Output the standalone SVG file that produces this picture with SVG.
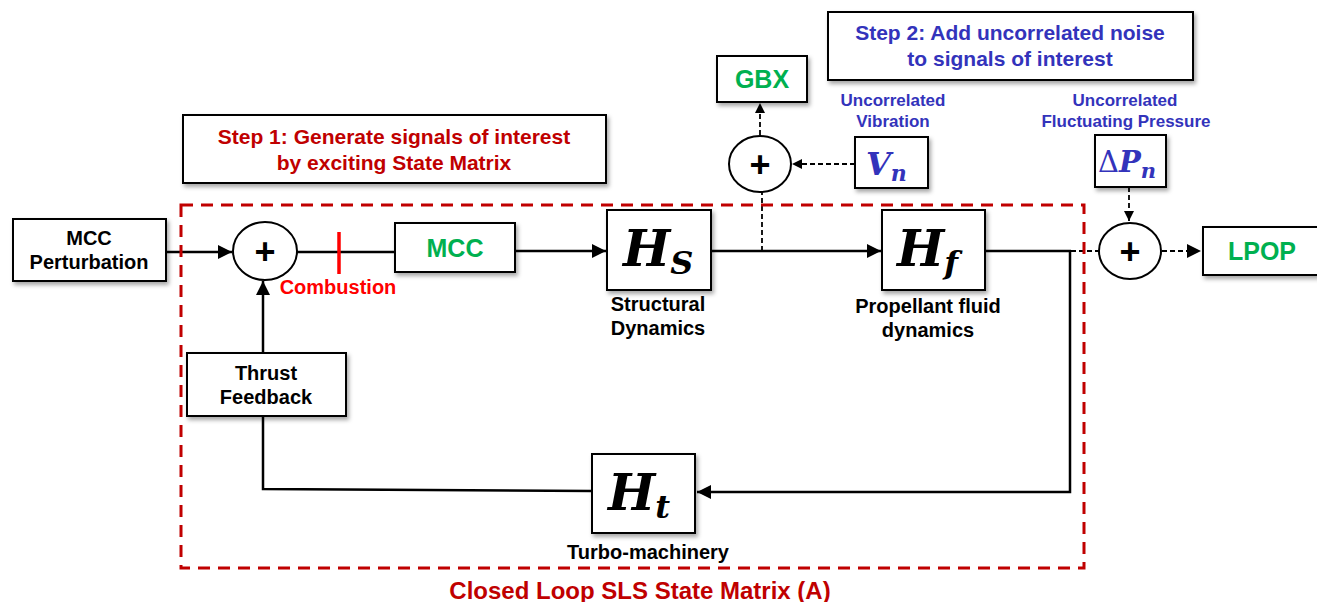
<svg xmlns="http://www.w3.org/2000/svg" width="1317" height="602" viewBox="0 0 1317 602">
<style>
.box{fill:#fff;stroke:#000;stroke-width:2;filter:url(#sh)}
.sum{fill:#fff;stroke:#000;stroke-width:2}
.t{font-family:"Liberation Sans",Arial,sans-serif;font-weight:bold;text-anchor:middle}
.blk{fill:#000;font-size:20px}
.grn{fill:#00B050;font-size:25px}
.red{fill:#C00000;font-size:21px}
.blu{fill:#3333BB}
.m{font-family:"DejaVu Serif","Liberation Serif",serif;font-weight:bold;font-style:italic}
.w{fill:none;stroke:#000;stroke-width:2.5}
.d{fill:none;stroke:#000;stroke-width:1.8;stroke-dasharray:5,3}
.plus{fill:#000;font-size:36px}
</style>
<defs>
<filter id="sh" x="-10%" y="-10%" width="130%" height="140%">
<feDropShadow dx="2" dy="3" stdDeviation="2" flood-color="#000" flood-opacity="0.35"/>
</filter>
<marker id="a" viewBox="0 0 10 10" refX="10" refY="5" markerWidth="10" markerHeight="10" markerUnits="userSpaceOnUse" orient="auto">
<path d="M0,0 L10,5 L0,10 z" fill="#000"/>
</marker>
<marker id="A" viewBox="0 0 10 10" refX="10" refY="5" markerWidth="14" markerHeight="14" markerUnits="userSpaceOnUse" orient="auto">
<path d="M0,0 L10,5 L0,10 z" fill="#000"/>
</marker>
</defs>
<rect width="1317" height="602" fill="#fff"/>

<g id="connectors">
<line class="w" x1="166" y1="252" x2="232" y2="252" marker-end="url(#A)"/>
<line class="w" x1="297" y1="252" x2="395" y2="252"/>
<line class="w" x1="515" y1="251" x2="606" y2="251" marker-end="url(#A)"/>
<line class="w" x1="711" y1="251" x2="881" y2="251" marker-end="url(#A)"/>
<line class="w" x1="985" y1="251" x2="1071" y2="251"/>
<line class="d" x1="1071" y1="251" x2="1099" y2="251"/>
<line class="d" x1="1162" y1="251" x2="1201" y2="251" marker-end="url(#A)"/>
<polyline class="w" points="1070,251 1070,492 697,492" marker-end="url(#A)"/>
<polyline class="w" points="592,491 263,489 263,416"/>
<line class="w" x1="263" y1="353" x2="263" y2="281" marker-end="url(#A)"/>
<line class="d" x1="762" y1="251" x2="762" y2="192"/>
<line class="d" x1="760" y1="135" x2="760" y2="103" marker-end="url(#a)"/>
<line class="d" x1="855" y1="164" x2="792" y2="164" marker-end="url(#a)"/>
<line class="d" x1="1129" y1="187" x2="1129" y2="221" marker-end="url(#a)"/>
<line x1="339" y1="232" x2="339" y2="274" stroke="#FF0000" stroke-width="3.5"/>
</g>

<g id="closed-loop">
<rect x="181" y="205" width="903" height="363" fill="none" stroke="#C00000" stroke-width="3" stroke-dasharray="12,8"/>
<text class="t" x="640" y="599" fill="#C00000" font-size="24">Closed Loop SLS State Matrix (A)</text>
</g>

<g id="step1">
<rect class="box" x="183" y="115" width="423" height="68"/>
<text class="t red" x="394" y="144">Step 1: Generate signals of interest</text>
<text class="t red" x="394" y="170">by exciting State Matrix</text>
</g>

<g id="step2">
<rect class="box" x="828" y="12" width="365" height="68"/>
<text class="t blu" font-size="21" x="1010" y="40">Step 2: Add uncorrelated noise</text>
<text class="t blu" font-size="21" x="1010" y="66">to signals of interest</text>
</g>

<g id="mcc-perturbation">
<rect class="box" x="13" y="219" width="153" height="62"/>
<text class="t blk" x="89" y="245">MCC</text>
<text class="t blk" x="89" y="269">Perturbation</text>
</g>

<g id="sum1">
<ellipse class="sum" cx="265" cy="251" rx="32" ry="29"/>
<text class="t plus" x="265" y="264">+</text>
</g>

<g id="combustion">
<text class="t" x="338" y="294" fill="#FF0000" font-size="20">Combustion</text>
</g>

<g id="mcc">
<rect class="box" x="395" y="223" width="120" height="49"/>
<text class="t grn" x="455" y="257">MCC</text>
</g>

<g id="hs">
<rect class="box" x="607" y="210" width="104" height="80"/>
<text class="m" x="623" y="266" font-size="50">H<tspan font-size="32" dy="8">S</tspan></text>
<text class="t blk" x="658" y="311">Structural</text>
<text class="t blk" x="658" y="335">Dynamics</text>
</g>

<g id="hf">
<rect class="box" x="882" y="210" width="103" height="80"/>
<text class="m" x="897" y="266" font-size="50">H<tspan font-size="32" dy="8">f</tspan></text>
<text class="t blk" x="928" y="313">Propellant fluid</text>
<text class="t blk" x="928" y="337">dynamics</text>
</g>

<g id="ht">
<rect class="box" x="592" y="454" width="103" height="79"/>
<text class="m" x="608" y="510" font-size="50">H<tspan font-size="32" dy="8">t</tspan></text>
<text class="t blk" x="648" y="559">Turbo-machinery</text>
</g>

<g id="thrust-feedback">
<rect class="box" x="187" y="353" width="159" height="63"/>
<text class="t blk" x="266" y="380">Thrust</text>
<text class="t blk" x="266" y="404">Feedback</text>
</g>

<g id="sum-gbx">
<ellipse class="sum" cx="760" cy="164" rx="31" ry="28"/>
<text class="t plus" x="760" y="177">+</text>
</g>

<g id="gbx">
<rect class="box" x="717" y="56" width="90" height="46"/>
<text class="t grn" x="762" y="88">GBX</text>
</g>

<g id="vn">
<text class="t blu" font-size="17" x="893" y="106">Uncorrelated</text>
<text class="t blu" font-size="17" x="893" y="127">Vibration</text>
<rect class="box" x="855" y="137" width="73" height="51"/>
<text class="m" x="866" y="175" font-size="32" fill="#3333BB">V<tspan font-size="22" dy="6">n</tspan></text>
</g>

<g id="dpn">
<text class="t blu" font-size="17" x="1125" y="106">Uncorrelated</text>
<text class="t blu" font-size="17" x="1126" y="127">Fluctuating  Pressure</text>
<rect class="box" x="1095" y="135" width="71" height="52"/>
<text class="m" x="1098" y="172" font-size="29" fill="#3333BB"><tspan font-style="normal" font-weight="normal">Δ</tspan>P<tspan font-size="21" dy="6">n</tspan></text>
</g>

<g id="sum-lpop">
<ellipse class="sum" cx="1130" cy="251" rx="31" ry="28"/>
<text class="t plus" x="1130" y="264">+</text>
</g>

<g id="lpop">
<rect class="box" x="1203" y="227" width="118" height="48"/>
<text class="t grn" x="1262" y="260">LPOP</text>
</g>
</svg>
